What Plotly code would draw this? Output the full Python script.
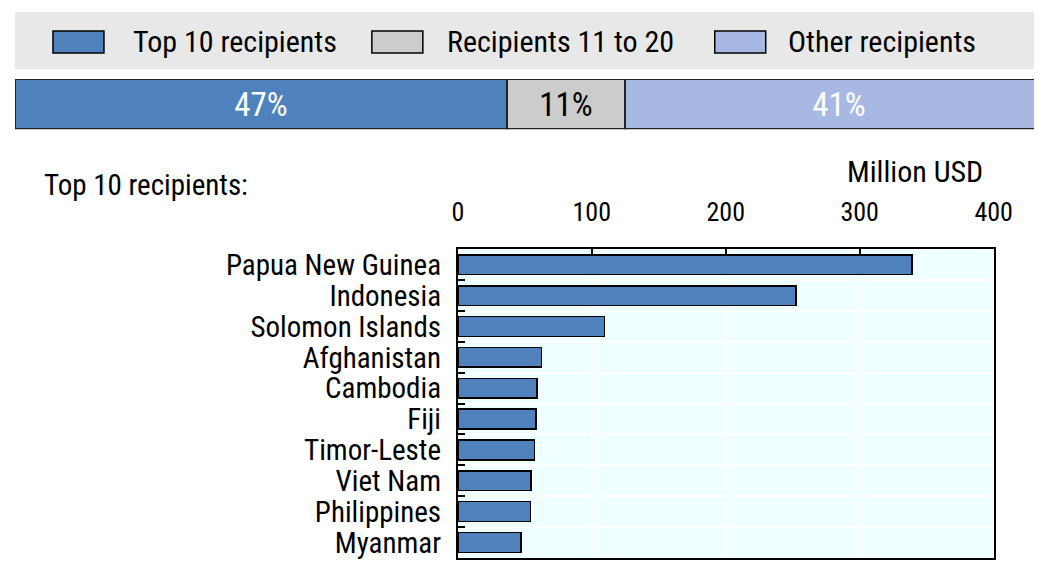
import plotly.graph_objects as go

# Data
countries = ["Papua New Guinea", "Indonesia", "Solomon Islands", "Afghanistan", "Cambodia",
             "Fiji", "Timor-Leste", "Viet Nam", "Philippines", "Myanmar"]
values = [339, 252.6, 109.5, 62.5, 59, 58.2, 57.1, 54.8, 54.3, 47.2]

share_groups = ["Top 10 recipients", "Recipients 11 to 20", "Other recipients"]
share_values = [47.4, 11.4, 41.2]
share_labels = ["47%", "11%", "41%"]
share_colors = ["#4F81BD", "#CCCCCC", "#A7B9E3"]
share_text_colors = ["white", "black", "white"]

x_ticks = [0, 100, 200, 300, 400]

FONT = "Liberation Sans Narrow, Arial Narrow, Roboto Condensed, DejaVu Sans Condensed, sans-serif"
W, H = 1070, 555
# observed placement of the figure in the photographed page
OX, OY, SX, SY = 13, 10, 0.977, 0.993

def px(x):
    return (x - OX) / (SX * W)

def py(y):
    return 1 - (y - OY) / (SY * H)

fig = go.Figure()

fig.add_trace(go.Bar(
    x=values, y=countries, orientation="h",
    marker=dict(color="#4F81BD", line=dict(color="black", width=1.5)),
    xaxis="x", yaxis="y", showlegend=False, hoverinfo="x+y",
))

for g, v, lab, c, tc in zip(share_groups, share_values, share_labels, share_colors, share_text_colors):
    fig.add_trace(go.Bar(
        x=[v], y=["share"], orientation="h", name=g,
        marker=dict(color=c, line=dict(color="#222222", width=1.5)),
        text=[lab], textposition="inside", insidetextanchor="middle",
        textfont=dict(family=FONT, size=33, color=tc),
        xaxis="x2", yaxis="y2", showlegend=False, width=1,
    ))

shapes = []
annotations = []

shapes.append(dict(type="rect", xref="paper", yref="paper",
                   x0=px(14), x1=1.0, y0=py(70), y1=py(13),
                   fillcolor="#E8E8E8", line=dict(width=0), layer="below"))
legend_pos = [(52, 130), (371, 444), (714, 785)]
for (sx, tx), g, c in zip(legend_pos, share_groups, share_colors):
    shapes.append(dict(type="rect", xref="paper", yref="paper",
                       x0=px(sx), x1=px(sx + 51), y0=py(54), y1=py(32),
                       fillcolor=c, line=dict(color="black", width=1.5)))
    annotations.append(dict(text=g, xref="paper", yref="paper", x=px(tx), y=py(42),
                            xanchor="left", yanchor="middle", showarrow=False,
                            font=dict(family=FONT, size=30, color="black")))

annotations.append(dict(text="Top 10 recipients:", xref="paper", yref="paper",
                        x=px(41), y=py(186), xanchor="left", yanchor="middle",
                        showarrow=False, font=dict(family=FONT, size=29, color="black")))
annotations.append(dict(text="Million USD", xref="paper", yref="paper",
                        x=px(984), y=py(172), xanchor="right", yanchor="middle",
                        showarrow=False, font=dict(family=FONT, size=30, color="black")))

fig.update_layout(
    width=W, height=H,
    margin=dict(l=0, r=0, t=0, b=0),
    paper_bgcolor="white",
    plot_bgcolor="#F0FFFF",
    barmode="stack",
    bargap=0.36,
    font=dict(family=FONT, color="black"),
    shapes=shapes,
    annotations=annotations,
    xaxis=dict(
        domain=[px(457), px(993)], range=[0, 400], side="top",
        tickvals=x_ticks, ticks="inside", ticklen=7, tickwidth=2, tickcolor="black",
        showgrid=True, gridcolor="white", gridwidth=2,
        showline=True, linecolor="black", linewidth=2, mirror=True,
        zeroline=False, ticklabelstandoff=16,
        tickfont=dict(family=FONT, size=26, color="black"),
        anchor="y", fixedrange=True,
    ),
    yaxis=dict(
        domain=[py(558), py(250)], autorange="reversed",
        type="category", tickson="boundaries", ticks="inside", ticklen=7,
        tickmode="linear", tick0=0, dtick=1,
        tickwidth=2, tickcolor="black",
        showgrid=True, gridcolor="white", gridwidth=2,
        showline=True, linecolor="black", linewidth=2, mirror=True,
        ticklabelstandoff=9,
        tickfont=dict(family=FONT, size=29, color="black"),
        anchor="x", fixedrange=True,
    ),
    xaxis2=dict(
        domain=[px(14), min(1.0, px(1052))], range=[0, 100], visible=False,
        anchor="y2", fixedrange=True,
    ),
    yaxis2=dict(
        domain=[py(130), py(80)], range=[-0.5, 0.5], visible=False,
        anchor="x2", fixedrange=True,
    ),
)

fig.write_html("out.html")
